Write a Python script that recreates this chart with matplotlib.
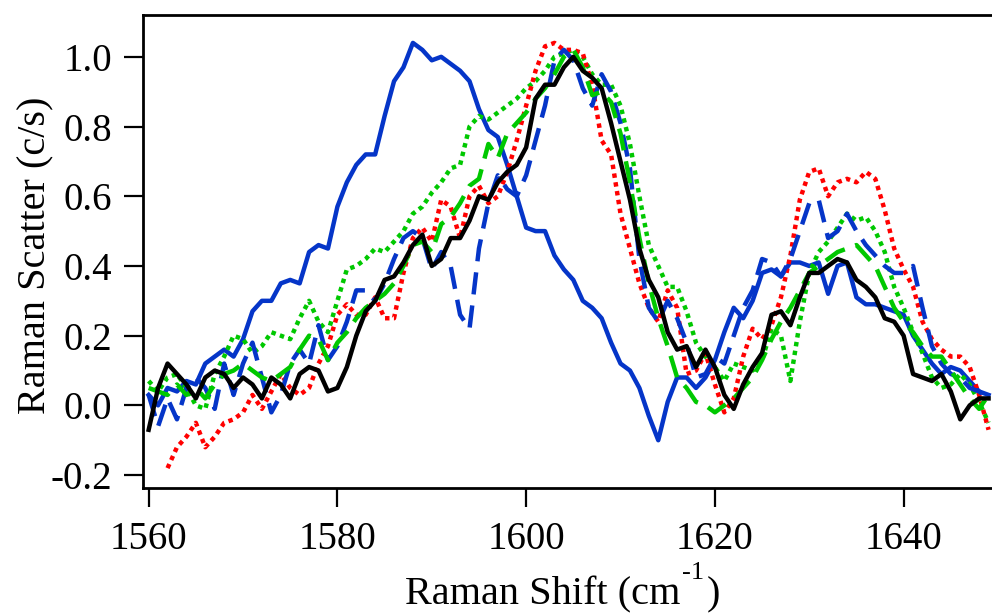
import numpy as np
import matplotlib
matplotlib.use('Agg')
import matplotlib.pyplot as plt

plt.rcParams['font.family'] = ['Liberation Serif', 'DejaVu Serif']

# Raman shift grid (cm-1)
wn = np.arange(1560, 1650)
wn_red = np.arange(1562, 1650)

blue_solid = [
    0.03, 0.00, 0.05, 0.04, 0.07, 0.06, 0.12, 0.14, 0.16, 0.14,
    0.19, 0.27, 0.30, 0.30, 0.35, 0.36, 0.35, 0.44, 0.46, 0.45,
    0.57, 0.64, 0.69, 0.72, 0.72, 0.83, 0.93, 0.97, 1.04, 1.02,
    0.99, 1.00, 0.98, 0.96, 0.93, 0.85, 0.79, 0.77, 0.69, 0.60,
    0.51, 0.50, 0.50, 0.43, 0.39, 0.36, 0.30, 0.28, 0.25, 0.18,
    0.12, 0.10, 0.05, -0.03, -0.10, 0.01, 0.08, 0.08, 0.05, 0.08,
    0.13, 0.21, 0.28, 0.25, 0.30, 0.38, 0.39, 0.37, 0.41, 0.41,
    0.40, 0.41, 0.32, 0.40, 0.41, 0.31, 0.29, 0.29, 0.28, 0.27,
    0.26, 0.20, 0.16, 0.12, 0.09, 0.11, 0.10, 0.07, 0.04, 0.03,
]

black_solid = [
    -0.07, 0.05, 0.12, 0.09, 0.06, 0.02, 0.08, 0.10, 0.09, 0.05,
    0.08, 0.06, 0.02, 0.08, 0.06, 0.02, 0.09, 0.11, 0.10, 0.04,
    0.05, 0.11, 0.20, 0.27, 0.30, 0.36, 0.37, 0.41, 0.46, 0.49,
    0.40, 0.42, 0.48, 0.48, 0.53, 0.60, 0.59, 0.64, 0.67, 0.69,
    0.74, 0.88, 0.92, 0.92, 0.97, 1.00, 0.96, 0.94, 0.91, 0.81,
    0.70, 0.59, 0.45, 0.36, 0.31, 0.21, 0.16, 0.17, 0.11, 0.16,
    0.11, 0.03, -0.01, 0.06, 0.11, 0.15, 0.26, 0.27, 0.23, 0.31,
    0.38, 0.38, 0.40, 0.42, 0.41, 0.36, 0.34, 0.31, 0.25, 0.24,
    0.20, 0.09, 0.08, 0.07, 0.09, 0.04, -0.04, 0.00, 0.02, 0.02,
]

red_dotted = [
    -0.18, -0.12, -0.09, -0.05, -0.12, -0.09, -0.05, -0.04,
    -0.02, 0.03, -0.01, 0.04, 0.09, 0.05, 0.03, 0.05, 0.12, 0.17,
    0.26, 0.29, 0.26, 0.26, 0.31, 0.25, 0.25, 0.38, 0.48, 0.51,
    0.47, 0.59, 0.57, 0.48, 0.60, 0.63, 0.58, 0.60, 0.67, 0.76,
    0.86, 0.96, 1.03, 1.04, 1.02, 1.02, 1.01, 0.92, 0.76, 0.72,
    0.55, 0.45, 0.35, 0.28, 0.24, 0.33, 0.28, 0.09, 0.10, 0.15,
    0.06, -0.02, 0.02, 0.14, 0.22, 0.19, 0.23, 0.31, 0.43, 0.59,
    0.67, 0.68, 0.60, 0.64, 0.65, 0.64, 0.67, 0.65, 0.56, 0.45,
    0.39, 0.34, 0.24, 0.19, 0.16, 0.14, 0.14, 0.11, 0.03, -0.07,
]

green_dotted = [
    0.07, 0.04, 0.08, 0.09, 0.05, 0.00, -0.01, 0.09, 0.14, 0.20,
    0.19, 0.15, 0.17, 0.21, 0.20, 0.19, 0.25, 0.30, 0.24, 0.21,
    0.30, 0.39, 0.40, 0.42, 0.45, 0.44, 0.47, 0.50, 0.55, 0.57,
    0.61, 0.64, 0.68, 0.69, 0.80, 0.83, 0.82, 0.84, 0.86, 0.88,
    0.91, 0.93, 0.96, 1.00, 1.01, 1.02, 1.00, 0.95, 0.92, 0.92,
    0.86, 0.75, 0.60, 0.46, 0.40, 0.34, 0.34, 0.27, 0.18, 0.14,
    0.11, 0.07, 0.12, 0.11, 0.10, 0.13, 0.22, 0.20, 0.07, 0.24,
    0.38, 0.44, 0.47, 0.51, 0.55, 0.53, 0.54, 0.50, 0.44, 0.34,
    0.28, 0.21, 0.15, 0.08, 0.05, 0.06, 0.09, 0.06, 0.01, -0.05,
]

blue_dashed = [
    0.03, -0.06, 0.02, -0.04, 0.05, 0.08, 0.05, -0.01, 0.12, 0.03,
    0.12, 0.18, 0.08, -0.02, 0.03, 0.12, 0.16, 0.12, 0.23, 0.13,
    0.17, 0.24, 0.33, 0.33, 0.30, 0.35, 0.42, 0.48, 0.50, 0.48,
    0.39, 0.44, 0.40, 0.26, 0.22, 0.45, 0.58, 0.66, 0.62, 0.60,
    0.66, 0.76, 0.86, 0.99, 1.02, 0.99, 0.91, 0.86, 0.95, 0.90,
    0.81, 0.68, 0.42, 0.28, 0.24, 0.30, 0.25, 0.18, 0.08, 0.09,
    0.14, 0.12, 0.20, 0.28, 0.33, 0.42, 0.41, 0.37, 0.42, 0.50,
    0.58, 0.59, 0.48, 0.50, 0.55, 0.50, 0.46, 0.43, 0.40, 0.38,
    0.38, 0.40, 0.28, 0.17, 0.12, 0.09, 0.08, 0.05, 0.04, 0.02,
]

green_dashed = [
    0.05, 0.04, 0.03, 0.06, 0.03, 0.05, 0.02, 0.06, 0.09, 0.10,
    0.12, 0.10, 0.08, 0.07, 0.09, 0.11, 0.16, 0.20, 0.19, 0.13,
    0.18, 0.21, 0.25, 0.28, 0.30, 0.32, 0.35, 0.40, 0.46, 0.47,
    0.44, 0.52, 0.54, 0.58, 0.63, 0.65, 0.75, 0.71, 0.78, 0.81,
    0.84, 0.88, 0.91, 0.95, 1.00, 1.02, 0.97, 0.89, 0.90, 0.87,
    0.78, 0.64, 0.48, 0.35, 0.25, 0.17, 0.08, 0.05, 0.01, 0.00,
    -0.02, 0.00, 0.02, 0.05, 0.08, 0.13, 0.19, 0.24, 0.28, 0.33,
    0.38, 0.40, 0.42, 0.44, 0.45, 0.46, 0.43, 0.40, 0.34, 0.28,
    0.24, 0.21, 0.17, 0.14, 0.14, 0.10, 0.06, 0.02, -0.01, 0.03,
]

blue = '#0535C8'
green = '#00C800'
red = '#FF0000'
lw = 3.2

fig = plt.figure(figsize=(9.92, 6.15), dpi=100)
ax = fig.add_axes([143 / 992, 1 - 488 / 615, (998 - 143) / 992, (488 - 15) / 615])

ax.plot(wn, blue_solid, color=blue, lw=lw, solid_joinstyle='round')
ax.plot(wn, green_dotted, color=green, lw=lw, linestyle=(0, (1, 1)), dash_capstyle='butt')
ax.plot(wn_red, red_dotted, color=red, lw=lw, linestyle=(0, (1, 1)), dash_capstyle='butt')
ax.plot(wn, blue_dashed, color=blue, lw=lw, linestyle=(0, (5, 2.5)))
ax.plot(wn, green_dashed, color=green, lw=lw, linestyle=(0, (5, 2.5)))
ax.plot(wn, black_solid, color='black', lw=lw, solid_joinstyle='round')

ax.set_xlim(1559.4, 1650)
ax.set_ylim(-0.237, 1.12)
ax.set_xticks([1560, 1580, 1600, 1620, 1640])
ax.set_yticks([-0.2, 0.0, 0.2, 0.4, 0.6, 0.8, 1.0])
ax.set_yticklabels(['-0.2', '0.0', '0.2', '0.4', '0.6', '0.8', '1.0'])

for s in ax.spines.values():
    s.set_linewidth(2.0)
ax.spines['right'].set_visible(False)

ax.tick_params(axis='both', direction='out', length=14, width=1.6,
               labelsize=28, colors='black')
ax.tick_params(axis='x', pad=10)
ax.tick_params(axis='y', pad=8)

# y label
fig.text(36 / 992, 1 - 255 / 615, 'Raman Scatter (c/s)', fontsize=29,
         rotation=90, ha='center', va='center')

# x label with raised "-1"
renderer = fig.canvas.get_renderer()
y0 = (615 - 604) / 615
t1 = fig.text(405 / 992, y0, 'Raman Shift (cm', fontsize=29, va='baseline')
bb1 = t1.get_window_extent(renderer)
t2 = fig.text(bb1.x1 / 992 + 0.002, y0 + 25 / 615, '-1', fontsize=19, va='baseline')
bb2 = t2.get_window_extent(renderer)
fig.text(bb2.x1 / 992 + 0.002, y0, ')', fontsize=29, va='baseline')

fig.savefig('out.png', dpi=100)
